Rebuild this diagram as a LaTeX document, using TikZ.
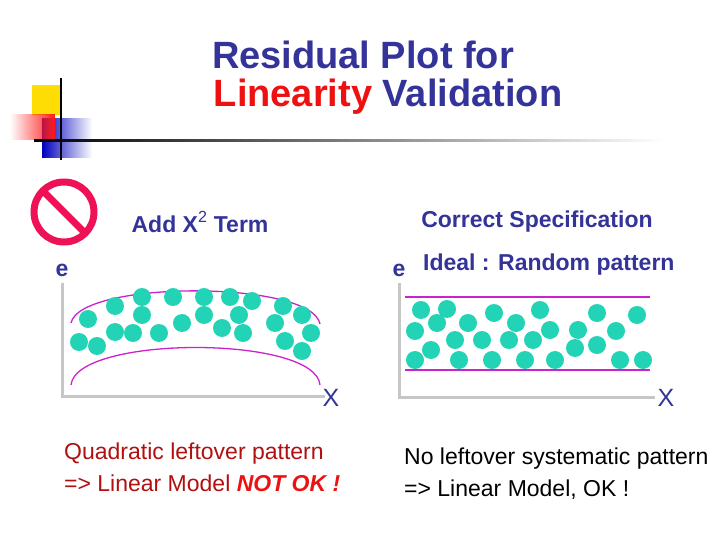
\documentclass[tikz,border=0pt]{standalone}
\usepackage{fontspec}
\setmainfont{Liberation Sans}
\usetikzlibrary{fadings}
\definecolor{tblue}{HTML}{333399}
\definecolor{tred}{HTML}{EE1111}
\definecolor{dred}{HTML}{B01010}
\definecolor{teal}{HTML}{22D3B5}
\definecolor{mag}{HTML}{CC22CC}
\definecolor{sign}{HTML}{EE1155}
\begin{document}
\begin{tikzpicture}[x=1pt,y=-1pt,
  dot/.style={circle,fill=teal,minimum size=18pt,inner sep=0pt},
  lbl/.style={text=tblue,font=\fontsize{23}{26}\selectfont\bfseries,inner sep=0pt},
  xl/.style={text=tblue,font=\fontsize{25}{26}\selectfont,inner sep=0pt},
  axisl/.style={draw=gray!45,line width=3pt},
  arcl/.style={draw=mag,line width=1.3pt},
  note/.style={font=\fontsize{23}{32}\selectfont,align=left,anchor=north west,inner sep=0pt}]
\useasboundingbox (0,0) rectangle (720,540);
% logo
\fill[yellow!80!orange] (32,85) rectangle (62,115);
\fill[blue!75!black,path fading=east] (42,118) rectangle (92,158);
\fill[red!90!white,path fading=west] (10,114) rectangle (55,140);
\draw[line width=2pt] (61,78) -- (61,160);
\draw[line width=2pt,left color=black,right color=white,draw=none] (34,140) rectangle (665,142);
% title
\node[text=tblue,font=\fontsize{38}{40}\selectfont\bfseries,inner sep=0] (t1) at (363,55) {Residual Plot for};
\node[font=\fontsize{38}{40}\selectfont\bfseries,inner sep=0] (t2) at (388,97) {\textcolor{tred}{Linearity} \textcolor{tblue}{Validation}};
% sign
\draw[sign,line width=7pt] (64,212) circle (30);
\draw[sign,line width=7pt] (44,192) -- (84,232);
\node[lbl] (add) at (200,222) {Add X\textsuperscript{\mdseries 2} Term};
\node[lbl] (cs) at (537,222) {Correct Specification};
% left plot
\draw[axisl] (62,283) -- (62,396) -- (325,396);
\node[lbl] (e1) at (62,270) {e};
\node[xl] (x1) at (331,398) {X};
\draw[arcl] (71,323) .. controls (80,280) and (312,280) .. (320,324);
\draw[arcl] (71,385) .. controls (76,335) and (316,335) .. (320,385);
\foreach \p in {(88,319),(79,342),(97,346),(115,306),(115,332),(133,333),(142,297),(142,315),(159,333),(173,297),(182,323),(204,297),(204,315),(222,328),(230,297),(239,315),(243,333),(252,301),(275,323),(283,306),(285,341),(302,315),(311,333),(302,351)}
  \node[dot] at \p {};
% right plot
\draw[axisl] (399,283) -- (399,397) -- (655,397);
\node[lbl] (e2) at (399,270) {e};
\node[lbl,anchor=west] (ideal) at (423,265) {Ideal : Random pattern};
\node[xl] (x2) at (666,398) {X};
\draw[arcl] (405,297) -- (650,297);
\draw[arcl] (405,370) -- (650,370);
\foreach \p in {(421,310),(447,309),(494,313),(540,310),(597,313),(637,315),(415,331),(437,323),(468,323),(516,323),(550,330),(578,330),(616,331),(431,350),(455,340),(482,340),(509,340),(533,340),(575,348),(597,345),(415,360),(459,360),(492,360),(525,360),(555,360),(620,360),(643,360)}
  \node[dot] at \p {};
% notes
\node[note,text=dred] (n1) at (64,443) {Quadratic leftover pattern\\=> Linear Model \textcolor{tred}{\bfseries\itshape NOT OK !}};
\node[note] (n2) at (404,448) {No leftover systematic pattern\\=> Linear Model, OK !};
\end{tikzpicture}
\end{document}
